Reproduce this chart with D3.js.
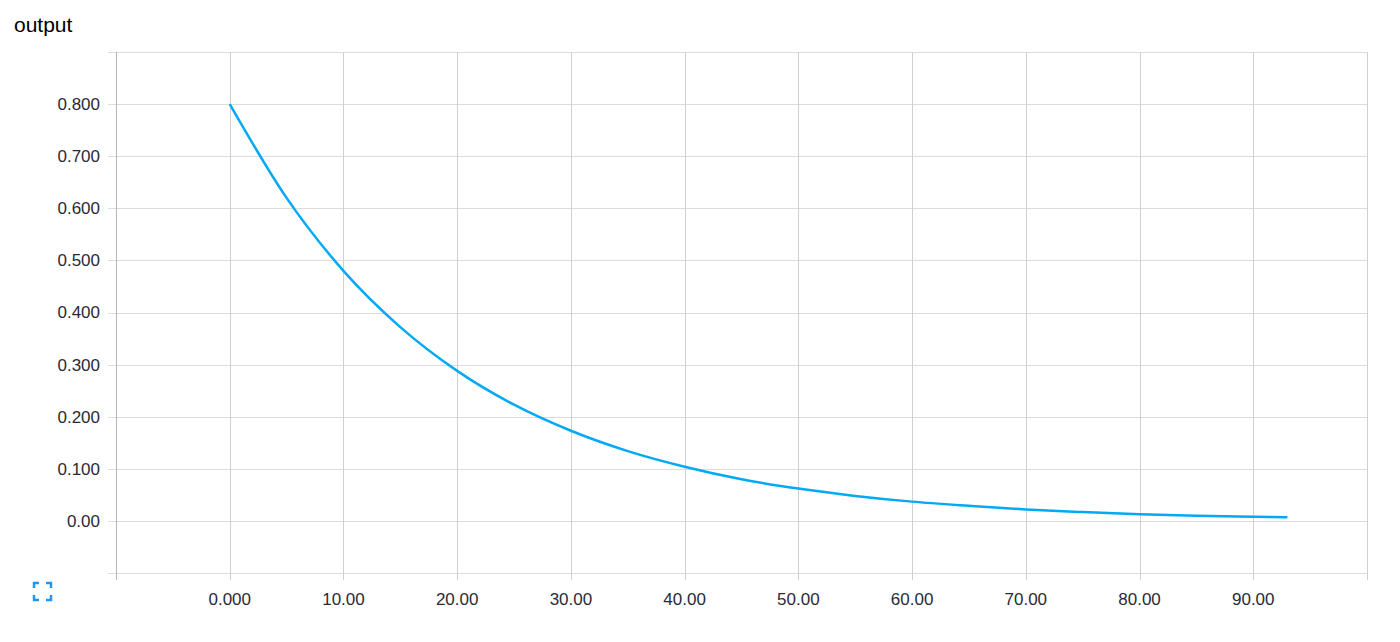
<html>
<head>
<style>
  body { margin: 0; background: #fff; font-family: "Liberation Sans", Helvetica, Arial, sans-serif; }
</style>
</head>
<body>
<script src="https://d3js.org/d3.v7.min.js"></script>
<script>
// DATA - step values and output
var steps = [0, 5, 10, 15, 20, 25, 30, 35, 40, 45, 50, 55, 60, 65, 70, 75, 80, 85, 90, 93];
var outputs = [0.800, 0.620, 0.480, 0.372, 0.288, 0.223, 0.173, 0.134, 0.104, 0.080,
               0.062, 0.048, 0.037, 0.029, 0.022, 0.017, 0.013, 0.010, 0.008, 0.007];
var xTicks = [0, 10, 20, 30, 40, 50, 60, 70, 80, 90];
var xTickLabels = ["0.000", "10.00", "20.00", "30.00", "40.00", "50.00", "60.00", "70.00", "80.00", "90.00"];
var yTicks = [0, 0.1, 0.2, 0.3, 0.4, 0.5, 0.6, 0.7, 0.8];
var yTickLabels = ["0.00", "0.100", "0.200", "0.300", "0.400", "0.500", "0.600", "0.700", "0.800"];
var title = "output";

var svg = d3.select("body").append("svg")
  .attr("width", 1400)
  .attr("height", 642);

// plot box
var plotLeft = 116, plotRight = 1367, plotTop = 52, plotBottom = 573;

var x = d3.scaleLinear().domain([-10, 100]).range([plotLeft, plotRight]);
var y = d3.scaleLinear().domain([-0.1, 0.9]).range([plotBottom, plotTop]);

// title
svg.append("text")
  .attr("x", 14).attr("y", 32)
  .style("font-size", "21px")
  .style("fill", "#000")
  .text(title);

// horizontal grid (incl. top and bottom edges)
var hLines = [-0.1].concat(yTicks).concat([0.9]);
svg.append("g").selectAll("line")
  .data(hLines)
  .enter().append("line")
  .attr("x1", plotLeft - 8).attr("x2", plotRight)
  .attr("y1", function(d){ return Math.round(y(d)) + 0.5; })
  .attr("y2", function(d){ return Math.round(y(d)) + 0.5; })
  .style("stroke", "#dcdcdc");

// vertical grid
var vLines = xTicks.concat([100]);
svg.append("g").selectAll("line")
  .data(vLines)
  .enter().append("line")
  .attr("x1", function(d){ return Math.round(x(d)) + 0.5; })
  .attr("x2", function(d){ return Math.round(x(d)) + 0.5; })
  .attr("y1", plotTop).attr("y2", plotBottom + 7)
  .style("stroke", "#d0d0d0");

// left axis line
svg.append("line")
  .attr("x1", plotLeft + 0.5).attr("x2", plotLeft + 0.5)
  .attr("y1", plotTop).attr("y2", plotBottom + 7)
  .style("stroke", "#b5b5b5");

// y labels
svg.append("g").selectAll("text")
  .data(yTicks)
  .enter().append("text")
  .attr("x", 100)
  .attr("y", function(d){ return y(d); })
  .attr("dy", "0.35em")
  .attr("text-anchor", "end")
  .style("font-size", "17px")
  .style("fill", "#2a2a35")
  .text(function(d, i){ return yTickLabels[i]; });

// x labels
svg.append("g").selectAll("text")
  .data(xTicks)
  .enter().append("text")
  .attr("x", function(d){ return x(d); })
  .attr("y", 605)
  .attr("text-anchor", "middle")
  .style("font-size", "17px")
  .style("fill", "#2a2a35")
  .text(function(d, i){ return xTickLabels[i]; });

// the curve
var pts = steps.map(function(s, i){ return [s, outputs[i]]; });
var line = d3.line()
  .x(function(d){ return x(d[0]); })
  .y(function(d){ return y(d[1]); })
  .curve(d3.curveMonotoneX);

svg.append("path")
  .datum(pts)
  .attr("d", line)
  .style("fill", "none")
  .style("stroke", "#03a9f4")
  .style("stroke-width", 2.5);

// fullscreen icon
var icon = svg.append("g")
  .attr("transform", "translate(33,582)")
  .style("fill", "none")
  .style("stroke", "#2196f3")
  .style("stroke-width", 2.5);
icon.append("path").attr("d", "M1,6 V1 H6");
icon.append("path").attr("d", "M13,1 H18 V6");
icon.append("path").attr("d", "M1,13 V18 H6");
icon.append("path").attr("d", "M13,18 H18 V13");
</script>
</body>
</html>
